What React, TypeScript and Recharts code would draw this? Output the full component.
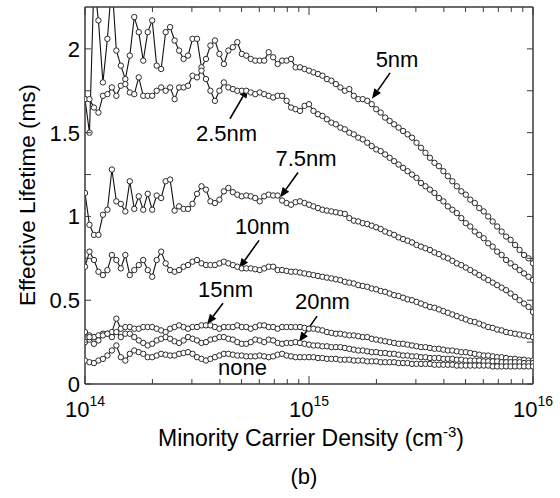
import React from "react";
import {
  LineChart,
  Line,
  XAxis,
  YAxis,
  ReferenceLine,
  ReferenceDot,
} from "recharts";

// log10 of minority carrier density (cm^-3) at each sample
const LOG_DENSITY = [
  14.0, 14.02, 14.04, 14.06, 14.08, 14.1, 14.12, 14.14, 14.16, 14.18,
  14.2, 14.22, 14.24, 14.26, 14.28, 14.3, 14.32, 14.34, 14.36, 14.38,
  14.4, 14.42, 14.44, 14.46, 14.48, 14.5, 14.52, 14.54, 14.56, 14.58,
  14.6, 14.62, 14.64, 14.66, 14.68, 14.7, 14.72, 14.74, 14.76, 14.78,
  14.8, 14.82, 14.84, 14.86, 14.88, 14.9, 14.92, 14.94, 14.96, 14.98,
  15.0, 15.02, 15.04, 15.06, 15.08, 15.1, 15.12, 15.14, 15.16, 15.18,
  15.2, 15.22, 15.24, 15.26, 15.28, 15.3, 15.32, 15.34, 15.36, 15.38,
  15.4, 15.42, 15.44, 15.46, 15.48, 15.5, 15.52, 15.54, 15.56, 15.58,
  15.6, 15.62, 15.64, 15.66, 15.68, 15.7, 15.72, 15.74, 15.76, 15.78,
  15.8, 15.82, 15.84, 15.86, 15.88, 15.9, 15.92, 15.94, 15.96, 15.98,
  16.0,
];

// effective lifetime (ms)
const NM_5 = [
  1.7, 1.5, 2.4, 2.17, 1.8, 2.06, 2.4, 1.99, 1.9, 1.82,
  1.96, 2.19, 2.1, 1.93, 2.1, 2.17, 1.9, 1.88, 2.1, 2.13,
  2.05, 1.99, 1.94, 1.96, 2.06, 2.06, 1.89, 1.94, 2.02, 2.05,
  1.97, 1.91, 1.99, 2.01, 2.04, 1.97, 1.96, 1.94, 1.93, 1.93,
  1.93, 1.98, 1.95, 1.91, 1.93, 1.93, 1.94, 1.89, 1.89, 1.88,
  1.87, 1.86, 1.85, 1.84, 1.82, 1.81, 1.79, 1.77, 1.75, 1.76,
  1.72, 1.7, 1.7, 1.69, 1.67, 1.64, 1.62, 1.59, 1.57, 1.55,
  1.53, 1.51, 1.49, 1.47, 1.44, 1.41, 1.38, 1.35, 1.32, 1.3,
  1.27, 1.24, 1.21, 1.18, 1.15, 1.13, 1.1, 1.08, 1.05, 1.03,
  1.0, 0.97, 0.94, 0.91, 0.88, 0.86, 0.83, 0.8, 0.77, 0.75,
  0.72,
];

const NM_2_5 = [
  1.7, 1.7, 1.65, 1.62, 1.72, 1.73, 1.77, 1.72, 1.78, 1.79,
  1.74, 1.73, 1.83, 1.72, 1.72, 1.72, 1.75, 1.77, 1.75, 1.77,
  1.7, 1.77, 1.77, 1.78, 1.84, 1.83, 1.87, 1.82, 1.75, 1.69,
  1.75, 1.8, 1.77, 1.76, 1.75, 1.75, 1.75, 1.74, 1.73, 1.74,
  1.73, 1.72, 1.71, 1.72, 1.72, 1.69, 1.65, 1.64, 1.63, 1.66,
  1.67, 1.63, 1.61, 1.6, 1.58, 1.56, 1.55, 1.53, 1.52, 1.5,
  1.49, 1.47, 1.46, 1.44, 1.42, 1.4, 1.39, 1.37, 1.35, 1.33,
  1.31, 1.29, 1.27, 1.25, 1.23, 1.2, 1.18, 1.16, 1.14, 1.11,
  1.09, 1.06, 1.04, 1.02, 0.99, 0.96, 0.94, 0.91, 0.89, 0.87,
  0.84, 0.82, 0.79, 0.77, 0.74, 0.72, 0.7, 0.68, 0.66, 0.64,
  0.62,
];

const NM_7_5 = [
  1.14, 0.95, 0.89, 0.89, 1.01, 1.04, 1.28, 1.09, 1.075, 1.03,
  1.21, 1.045, 1.12, 1.04, 1.135, 1.04, 1.125, 1.11, 1.21, 1.22,
  1.035, 1.06, 1.045, 1.045, 1.075, 1.135, 1.18, 1.16, 1.09, 1.08,
  1.1, 1.15, 1.17, 1.145, 1.13, 1.12, 1.125, 1.12, 1.11, 1.09,
  1.12, 1.13, 1.125, 1.125, 1.095, 1.08, 1.07, 1.085, 1.09, 1.08,
  1.07, 1.06, 1.05, 1.04, 1.035, 1.03, 1.025, 1.02, 1.015, 0.99,
  0.975, 0.97, 0.96, 0.955, 0.945, 0.935, 0.925, 0.91, 0.9, 0.89,
  0.875, 0.865, 0.855, 0.845, 0.83, 0.82, 0.81, 0.8, 0.785, 0.775,
  0.76, 0.75, 0.735, 0.72, 0.71, 0.695, 0.68, 0.665, 0.65, 0.635,
  0.62, 0.605, 0.59, 0.575, 0.56, 0.54, 0.52, 0.5, 0.48, 0.46,
  0.43,
];

const NM_10 = [
  0.7, 0.79, 0.74, 0.67, 0.65, 0.68, 0.77, 0.74, 0.69, 0.77,
  0.65, 0.68, 0.71, 0.74, 0.68, 0.64, 0.74, 0.79, 0.72, 0.68,
  0.67, 0.68, 0.7, 0.71, 0.73, 0.74, 0.72, 0.71, 0.71, 0.71,
  0.72, 0.73, 0.72, 0.71, 0.7, 0.69, 0.69, 0.69, 0.685, 0.68,
  0.69, 0.7, 0.7, 0.68, 0.68, 0.675, 0.67, 0.67, 0.665, 0.66,
  0.655, 0.65, 0.645, 0.64, 0.635, 0.63, 0.625, 0.62, 0.61, 0.605,
  0.6, 0.59, 0.585, 0.58, 0.57, 0.565, 0.555, 0.55, 0.54, 0.53,
  0.525, 0.515, 0.505, 0.5, 0.49, 0.48, 0.47, 0.46, 0.455, 0.445,
  0.435, 0.425, 0.415, 0.405, 0.395, 0.385, 0.375, 0.37, 0.36, 0.35,
  0.34, 0.335, 0.325, 0.32, 0.31, 0.305, 0.3, 0.295, 0.29, 0.285,
  0.28,
];

const NM_15 = [
  0.31, 0.29, 0.28, 0.29, 0.3, 0.3, 0.31, 0.39, 0.33, 0.34,
  0.34, 0.33, 0.33, 0.34, 0.34, 0.34, 0.33, 0.32, 0.31, 0.33,
  0.34, 0.35, 0.34, 0.33, 0.34, 0.34, 0.35, 0.35, 0.35, 0.34,
  0.33, 0.34, 0.34, 0.34, 0.35, 0.34, 0.34, 0.33, 0.34, 0.35,
  0.35, 0.34, 0.34, 0.33, 0.34, 0.34, 0.34, 0.34, 0.34, 0.335,
  0.33, 0.33, 0.325, 0.32, 0.31, 0.305, 0.3, 0.3, 0.295, 0.29,
  0.29, 0.285, 0.28, 0.28, 0.27, 0.265, 0.26, 0.255, 0.25, 0.245,
  0.24, 0.24, 0.235, 0.23, 0.225, 0.22, 0.22, 0.215, 0.21, 0.21,
  0.205, 0.2, 0.2, 0.195, 0.19, 0.19, 0.185, 0.18, 0.175, 0.17,
  0.17, 0.165, 0.16, 0.16, 0.155, 0.15, 0.15, 0.145, 0.145, 0.14,
  0.14,
];

const NM_20 = [
  0.25, 0.28, 0.24, 0.26, 0.29, 0.3, 0.28, 0.31, 0.28, 0.3,
  0.3, 0.28, 0.26, 0.245, 0.23, 0.24, 0.26, 0.27, 0.28, 0.27,
  0.255, 0.245, 0.26, 0.28, 0.27, 0.26, 0.245, 0.25, 0.265, 0.27,
  0.28, 0.28, 0.27, 0.265, 0.25, 0.24, 0.24, 0.25, 0.265, 0.26,
  0.25, 0.265, 0.26, 0.245, 0.24, 0.245, 0.245, 0.25, 0.245, 0.24,
  0.235, 0.23, 0.23, 0.225, 0.225, 0.22, 0.22, 0.22, 0.215, 0.21,
  0.205, 0.2, 0.2, 0.195, 0.19, 0.19, 0.185, 0.185, 0.18, 0.18,
  0.175, 0.17, 0.17, 0.165, 0.165, 0.16, 0.16, 0.155, 0.155, 0.155,
  0.15, 0.15, 0.15, 0.145, 0.145, 0.14, 0.14, 0.14, 0.14, 0.135,
  0.135, 0.135, 0.135, 0.13, 0.13, 0.13, 0.13, 0.13, 0.125, 0.125,
  0.125,
];

const NONE = [
  0.14, 0.13, 0.125, 0.14, 0.15, 0.17, 0.2, 0.23, 0.16, 0.14,
  0.18, 0.2, 0.19, 0.18, 0.16, 0.16, 0.17, 0.18, 0.175, 0.17,
  0.17, 0.18, 0.185, 0.19, 0.18, 0.16, 0.15, 0.14, 0.15, 0.16,
  0.17, 0.18, 0.18, 0.175, 0.17, 0.17, 0.165, 0.165, 0.165, 0.17,
  0.165, 0.16, 0.165, 0.175, 0.18, 0.17, 0.165, 0.16, 0.16, 0.16,
  0.16, 0.16, 0.155, 0.155, 0.15, 0.15, 0.15, 0.145, 0.145, 0.145,
  0.14, 0.14, 0.14, 0.135, 0.135, 0.135, 0.13, 0.13, 0.13, 0.13,
  0.125, 0.125, 0.125, 0.12, 0.12, 0.12, 0.12, 0.12, 0.115, 0.115,
  0.115, 0.115, 0.115, 0.11, 0.11, 0.11, 0.11, 0.11, 0.11, 0.11,
  0.11, 0.105, 0.105, 0.105, 0.105, 0.105, 0.105, 0.105, 0.105, 0.105,
  0.105,
];

const X_TICKS = [
  1e14, 2e14, 3e14, 4e14, 5e14, 6e14, 7e14, 8e14, 9e14,
  1e15, 2e15, 3e15, 4e15, 5e15, 6e15, 7e15, 8e15, 9e15, 1e16,
];
const Y_TICKS = [0, 0.25, 0.5, 0.75, 1, 1.25, 1.5, 1.75, 2];

// label text, label anchor (log10 x, y) and arrow tail -> tip
const NOTES = [
  { text: "5nm", lx: 15.393, ly: 1.89, arrow: [15.362, 1.857, 15.281, 1.702] },
  { text: "2.5nm", lx: 14.632, ly: 1.45, arrow: [14.647, 1.583, 14.728, 1.768] },
  { text: "7.5nm", lx: 14.987, ly: 1.3, arrow: [14.951, 1.262, 14.871, 1.113] },
  { text: "10nm", lx: 14.792, ly: 0.895, arrow: [14.777, 0.857, 14.6875, 0.69] },
  { text: "15nm", lx: 14.627, ly: 0.52, arrow: [14.616, 0.482, 14.545, 0.357] },
  { text: "20nm", lx: 15.06, ly: 0.445, arrow: [15.036, 0.405, 14.955, 0.25] },
  { text: "none", lx: 14.703, ly: 0.055, arrow: null },
];

const SERIES = [
  { key: "nm5", values: NM_5 },
  { key: "nm25", values: NM_2_5 },
  { key: "nm75", values: NM_7_5 },
  { key: "nm10", values: NM_10 },
  { key: "nm15", values: NM_15 },
  { key: "nm20", values: NM_20 },
  { key: "none", values: NONE },
];

const data = LOG_DENSITY.map((e, i) => {
  const row: any = { x: Math.pow(10, e) };
  SERIES.forEach((s) => (row[s.key] = s.values[i]));
  return row;
});

const FONT = "'Liberation Sans', Arial, sans-serif";
const AXIS = "#3a3a3a";

const isDecade = (v: number) => {
  const e = Math.log10(v);
  return Math.abs(e - Math.round(e)) < 1e-6;
};

function BottomTick({ x, y, payload }: any) {
  const v = payload.value;
  const major = isDecade(v);
  return (
    <g>
      <line x1={x} x2={x} y1={y} y2={y - (major ? 8 : 5)} stroke={AXIS} strokeWidth={1} />
      {major && (
        <text x={x} y={y + 33} textAnchor="middle" fontSize={22} fontFamily={FONT} fill="#000">
          10
          <tspan dy={-11} fontSize={14}>
            {Math.round(Math.log10(v))}
          </tspan>
        </text>
      )}
    </g>
  );
}

function TopTick({ x, y, payload }: any) {
  const major = isDecade(payload.value);
  return <line x1={x} x2={x} y1={y} y2={y + (major ? 8 : 5)} stroke={AXIS} strokeWidth={1} />;
}

function LeftTick({ x, y, payload }: any) {
  const v = payload.value;
  const show = Math.abs(v * 2 - Math.round(v * 2)) < 1e-6;
  return (
    <g>
      <line x1={x} x2={x + 6} y1={y} y2={y} stroke={AXIS} strokeWidth={1} />
      {show && (
        <text x={x - 5} y={y + 8} textAnchor="end" fontSize={22} fontFamily={FONT} fill="#000">
          {v}
        </text>
      )}
    </g>
  );
}

function RightTick({ x, y }: any) {
  return <line x1={x} x2={x - 6} y1={y} y2={y} stroke={AXIS} strokeWidth={1} />;
}

function Arrow({ x1, y1, x2, y2 }: any) {
  const a = Math.atan2(y2 - y1, x2 - x1);
  const len = 10;
  const half = 4;
  const bx = x2 - len * Math.cos(a);
  const by = y2 - len * Math.sin(a);
  const px = -Math.sin(a) * half;
  const py = Math.cos(a) * half;
  return (
    <g>
      <line x1={x1} y1={y1} x2={bx} y2={by} stroke="#000" strokeWidth={1.6} />
      <polygon points={`${x2},${y2} ${bx + px},${by + py} ${bx - px},${by - py}`} fill="#000" />
    </g>
  );
}

export default function App() {
  return (
    <div style={{ position: "absolute", left: 0, top: 0, width: 560, height: 498, background: "#fff" }}>
      <LineChart
        width={560}
        height={498}
        data={data}
        margin={{ top: 6, right: 26, bottom: 84, left: 25 }}
      >
        <XAxis
          dataKey="x"
          type="number"
          scale="log"
          domain={[1e14, 1e16]}
          ticks={X_TICKS}
          interval={0}
          height={30}
          tickSize={0}
          tickMargin={0}
          tickLine={false}
          tick={<BottomTick />}
          axisLine={{ stroke: AXIS, strokeWidth: 1.5 }}
          allowDataOverflow
        />
        <XAxis
          xAxisId="top"
          orientation="top"
          dataKey="x"
          type="number"
          scale="log"
          domain={[1e14, 1e16]}
          ticks={X_TICKS}
          interval={0}
          height={1}
          tickSize={0}
          tickMargin={0}
          tickLine={false}
          tick={<TopTick />}
          axisLine={{ stroke: AXIS, strokeWidth: 1.5 }}
          allowDataOverflow
        />
        <YAxis
          type="number"
          domain={[0, 2.25]}
          ticks={Y_TICKS}
          interval={0}
          width={60}
          tickSize={0}
          tickMargin={0}
          tickLine={false}
          tick={<LeftTick />}
          axisLine={{ stroke: AXIS, strokeWidth: 1.5 }}
          allowDataOverflow
        />
        <YAxis
          yAxisId="right"
          orientation="right"
          type="number"
          domain={[0, 2.25]}
          ticks={Y_TICKS}
          interval={0}
          width={1}
          tickSize={0}
          tickMargin={0}
          tickLine={false}
          tick={<RightTick />}
          axisLine={{ stroke: AXIS, strokeWidth: 1.5 }}
          allowDataOverflow
        />
        {SERIES.map((s) => (
          <Line
            key={s.key}
            dataKey={s.key}
            type="linear"
            stroke="#111"
            strokeWidth={1.1}
            dot={{ r: 2.7, fill: "#fff", stroke: "#2a2a2a", strokeWidth: 1 }}
            activeDot={false}
            isAnimationActive={false}
          />
        ))}
        {NOTES.filter((n) => n.arrow).map((n) => (
          <ReferenceLine
            key={"a" + n.text}
            segment={[
              { x: Math.pow(10, n.arrow![0]), y: n.arrow![1] },
              { x: Math.pow(10, n.arrow![2]), y: n.arrow![3] },
            ]}
            shape={(p: any) => <Arrow {...p} />}
          />
        ))}
        {NOTES.map((n) => (
          <ReferenceDot
            key={"t" + n.text}
            x={Math.pow(10, n.lx)}
            y={n.ly}
            shape={(p: any) => (
              <text x={p.cx} y={p.cy} textAnchor="middle" fontSize={22} fontFamily={FONT} fill="#000">
                {n.text}
              </text>
            )}
          />
        ))}
      </LineChart>
      <svg
        width={560}
        height={498}
        style={{ position: "absolute", left: 0, top: 0, pointerEvents: "none" }}
      >
        <text x={311} y={446} textAnchor="middle" fontSize={23} fontFamily={FONT} fill="#000">
          Minority Carrier Density (cm
          <tspan dy={-9} fontSize={15}>-3</tspan>
          <tspan dy={9}>)</tspan>
        </text>
        <text x={304} y={484} textAnchor="middle" fontSize={22} fontFamily={FONT} fill="#000">
          (b)
        </text>
        <text
          x={35}
          y={195}
          transform="rotate(-90 35 195)"
          textAnchor="middle"
          fontSize={22.5}
          fontFamily={FONT}
          fill="#000"
        >
          Effective Lifetime (ms)
        </text>
      </svg>
    </div>
  );
}
